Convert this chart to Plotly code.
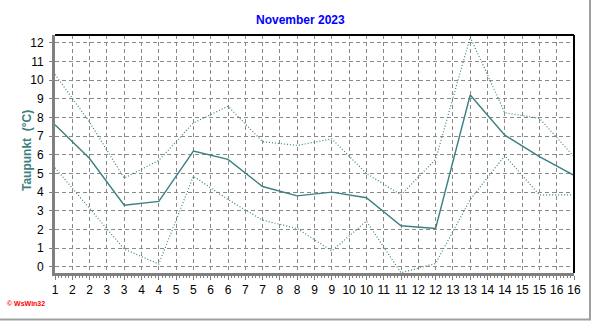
import plotly.graph_objects as go

days = list(range(1, 17))
mean_vals = [7.6, 5.8, 3.3, 3.5, 6.2, 5.75, 4.3, 3.8, 4.0, 3.7, 2.2, 2.05, 9.2, 7.05, 5.9, 4.9]
max_vals = [10.3, 7.75, 4.75, 5.7, 7.7, 8.6, 6.7, 6.5, 6.85, 5.0, 3.85, 5.75, 12.3, 8.25, 7.95, 5.9]
min_vals = [5.3, 3.15, 0.95, 0.15, 4.85, 3.6, 2.5, 2.05, 0.85, 2.45, -0.32, 0.18, 3.6, 5.95, 3.85, 3.85]

x_tickvals = [1 + 0.5 * i for i in range(31)]
x_ticktext = ["1", "2", "2", "3", "3", "4", "4", "5", "5", "6", "6", "7", "7", "8", "8",
              "9", "9", "10", "10", "11", "11", "12", "12", "13", "13", "14", "14",
              "15", "15", "16", "16"]
y_tickvals = list(range(0, 13))

LINE = "#3a8080"
FONT = "Liberation Sans, Arial, sans-serif"

fig = go.Figure()
fig.add_trace(go.Scatter(x=days, y=max_vals, mode="lines",
                         line=dict(color=LINE, width=1.2, dash="1px,2px"), showlegend=False))
fig.add_trace(go.Scatter(x=days, y=min_vals, mode="lines",
                         line=dict(color=LINE, width=1.2, dash="1px,2px"), showlegend=False))
fig.add_trace(go.Scatter(x=days, y=mean_vals, mode="lines",
                         line=dict(color=LINE, width=1.4), showlegend=False))

L, R, T, B = 55, 18, 35, 48
W, H = 592, 321
pw, ph = W - L - R, H - T - B

def px_x(p):
    return (p - L) / pw

def px_y(p):
    return (H - B - p) / ph

fig.update_layout(
    width=W, height=H,
    margin=dict(l=L, r=R, t=T, b=B, pad=0),
    paper_bgcolor="white", plot_bgcolor="white",
    font=dict(family=FONT, size=12, color="black"),
    xaxis=dict(
        range=[1, 16], tickmode="array", tickvals=x_tickvals, ticktext=x_ticktext,
        showgrid=True, gridcolor="#8a8a8a", griddash="4px,3px", gridwidth=1,
        showline=True, linecolor="#808080", linewidth=3,
        ticks="outside", ticklen=4, tickcolor="#808080", tickwidth=1,
        minor=dict(tickmode="linear", tick0=1, dtick=0.1, ticks="outside",
                   ticklen=2, tickcolor="#808080", showgrid=False),
        tickfont=dict(size=12, family=FONT), zeroline=False, fixedrange=True,
    ),
    yaxis=dict(
        range=[-0.33, 12.41], tickmode="array", tickvals=y_tickvals,
        showgrid=True, gridcolor="#8a8a8a", griddash="4px,3px", gridwidth=1,
        showline=True, linecolor="#808080", linewidth=3,
        ticks="outside", ticklen=3, tickcolor="#808080", ticklabelstandoff=3,
        tickfont=dict(size=12, family=FONT), zeroline=False, fixedrange=True,
    ),
    shapes=[
        dict(type="line", xref="paper", yref="paper", x0=0, x1=1, y0=1, y1=1,
             line=dict(color="black", width=2)),
        dict(type="line", xref="paper", yref="paper", x0=1, x1=1, y0=0, y1=1,
             line=dict(color="black", width=2)),
        dict(type="line", xref="paper", yref="paper", x0=px_x(590), x1=px_x(590),
             y0=px_y(0), y1=px_y(320), line=dict(color="#a0a0a0", width=2)),
        dict(type="line", xref="paper", yref="paper", x0=px_x(0), x1=px_x(591),
             y0=px_y(319.5), y1=px_y(319.5), line=dict(color="#a0a0a0", width=2)),
    ],
    annotations=[
        dict(text="<b>November 2023</b>", xref="paper", yref="paper",
             x=px_x(300), y=px_y(20), xanchor="center", yanchor="middle", showarrow=False,
             font=dict(size=12, color="#0000ff", family=FONT)),
        dict(text="<b>Taupunkt  (°C)</b>", xref="paper", yref="paper",
             x=px_x(27), y=px_y(151), xanchor="center", yanchor="middle",
             showarrow=False, textangle=-90,
             font=dict(size=12, color="#408080", family=FONT)),
        dict(text="<b>© WsWin32</b>", xref="paper", yref="paper",
             x=px_x(5), y=px_y(303), xanchor="left", yanchor="middle", showarrow=False,
             font=dict(size=7, color="#ff0000", family=FONT)),
    ],
)

fig.write_html("out.html")
